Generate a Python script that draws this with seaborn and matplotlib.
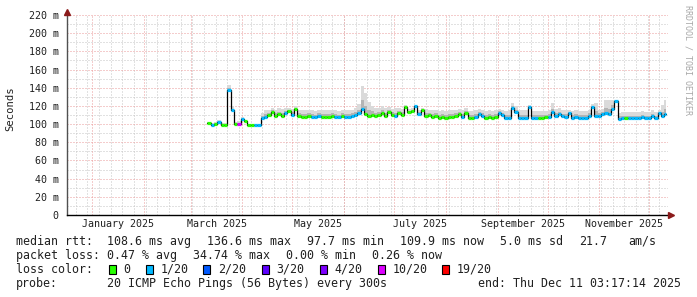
import numpy as np
import pandas as pd
import matplotlib
matplotlib.use("Agg")
import matplotlib.pyplot as plt
import matplotlib.dates as mdates
from matplotlib.patches import Rectangle
import seaborn as sns

# ---------------- data ----------------
first_sample = "2025-03-11"
sample_step_days = 2
median_ms = [
    101, 99, 100, 102, 99, 99, 138, 115, 100, 100,
    106, 103, 98.5, 98.5, 98.5, 98.5, 107, 108, 110, 113,
    109, 111, 109, 112, 114, 110, 117, 109, 108, 108,
    109, 108, 108, 109, 108, 108, 108, 109, 108, 108,
    109, 108, 108, 109, 110, 112, 117, 111, 109, 110,
    109, 110, 112, 109, 113, 110, 109, 112, 110, 119,
    113, 114, 120, 111, 116, 109, 110, 108, 109, 107,
    108, 107, 108, 108, 109, 111, 108, 112, 107, 107,
    108, 111, 109, 107, 108, 107, 108, 112, 110, 107,
    107, 118, 113, 107, 107, 107, 119, 107, 107, 107,
    107, 108, 108, 113, 109, 111, 109, 108, 112, 107,
    108, 107, 107, 107, 109, 119, 109, 109, 111, 112,
    111, 117, 125, 106, 107, 107, 107, 107, 107, 107,
    108, 107, 107, 109, 107, 112, 109, 111,
]
smoke_max_ms = [
    102, 101, 102, 104, 101, 101, 143, 120, 102, 103,
    108, 105, 100, 100, 100, 100, 112, 116, 116, 118,
    116, 118, 117, 118, 118, 117, 120, 116, 115, 115,
    116, 115, 114, 116, 115, 115, 116, 116, 115, 114,
    116, 115, 115, 116, 118, 122, 142, 134, 124, 120,
    118, 118, 120, 118, 119, 117, 118, 118, 117, 121,
    117, 118, 121, 116, 118, 117, 116, 115, 116, 114,
    115, 114, 116, 115, 116, 117, 115, 118, 114, 114,
    115, 117, 116, 114, 115, 114, 115, 117, 116, 114,
    115, 123, 120, 115, 115, 115, 121, 114, 114, 114,
    114, 114, 115, 123, 117, 118, 115, 115, 116, 114,
    115, 114, 114, 114, 116, 122, 123, 116, 117, 126,
    126, 126, 127, 112, 113, 113, 113, 113, 113, 113,
    114, 113, 113, 115, 113, 116, 121, 126,
]
loss_of_20 = [
    0, 1, 0, 1, 0, 0, 1, 1, 0, 10,
    1, 0, 0, 0, 1, 1, 1, 1, 0, 0,
    0, 0, 0, 1, 0, 1, 0, 0, 0, 0,
    0, 1, 1, 1, 0, 0, 0, 0, 1, 1,
    0, 1, 1, 1, 1, 1, 1, 0, 0, 0,
    0, 0, 0, 0, 0, 0, 1, 0, 0, 0,
    0, 0, 1, 1, 0, 0, 0, 0, 0, 0,
    0, 0, 0, 0, 0, 0, 1, 0, 0, 0,
    1, 1, 1, 0, 0, 0, 0, 1, 1, 1,
    1, 1, 1, 1, 1, 1, 1, 1, 1, 0,
    0, 0, 1, 1, 1, 1, 1, 1, 1, 1,
    1, 1, 1, 1, 1, 1, 1, 1, 1, 1,
    1, 1, 1, 1, 1, 0, 1, 1, 1, 1,
    1, 1, 1, 1, 1, 1, 1, 1,
]
loss_levels = [0, 1, 2, 3, 4, 10, 19]
loss_labels = ["0", "1/20", "2/20", "3/20", "4/20", "10/20", "19/20"]
loss_colors = ["#26ff00", "#00b8ff", "#0059ff", "#5e00ff", "#7e00ff", "#dd00ff", "#ff0000"]
y_tick_values = [0, 20, 40, 60, 80, 100, 120, 140, 160, 180, 200, 220]
x_label_months = ["2025-01", "2025-03", "2025-05", "2025-07", "2025-09", "2025-11"]

legend_rtt = [("median rtt:", 16), ("108.6 ms avg", 107.3), ("136.6 ms max", 207.3),
              ("97.7 ms min", 306.7), ("109.9 ms now", 400), ("5.0 ms sd", 500),
              ("21.7", 579.3), ("am/s", 628.3)]
legend_loss = [("packet loss:", 16), ("0.47 % avg", 107.3), ("34.74 % max", 193.3),
               ("0.00 % min", 286), ("0.26 % now", 372.3)]
probe_text = "20 ICMP Echo Pings (56 Bytes) every 300s"
end_text = "end: Thu Dec 11 03:17:14 2025"

# ---------------- style ----------------
sns.set_style("white")
plt.rcParams["font.family"] = ["DejaVu Sans Mono"]
W, H = 697, 297
fig = plt.figure(figsize=(W / 100, H / 100), dpi=100, facecolor="white")
ax_l, ax_r, ax_t, ax_b = 67, 668, 15, 215
ax = fig.add_axes([ax_l / W, 1 - ax_b / H, (ax_r - ax_l) / W, (ax_b - ax_t) / H])
ax.set_facecolor("white")

x_start = pd.Timestamp("2024-12-16 20:00")
x_end = pd.Timestamp("2025-12-12 05:00")
ax.set_xlim(x_start, x_end)
ax.set_ylim(0, 220)

red = "#eb9a9a"
gray = "#c4c4c4"
dot = (0, (1, 2))
gkw = dict(lw=0.72, ls=dot)
# minor grid
for v in range(10, 221, 20):
    ax.axhline(v, color=gray, zorder=0, **gkw)
weeks = pd.date_range("2024-12-22", x_end, freq="7D")
for d in weeks:
    ax.axvline(d, color=gray, zorder=0, **gkw)
# major grid
for v in y_tick_values[1:]:
    ax.axhline(v, color=red, zorder=0.1, **gkw)
months = pd.date_range("2025-01-01", x_end, freq="MS")
for d in months:
    ax.axvline(d, color=red, zorder=0.1, **gkw)

# ---------------- data marks ----------------
n = len(median_ms)
dates = pd.date_range(first_sample, periods=n, freq=f"{sample_step_days}D")
end_date = pd.Timestamp("2025-12-11 03:00")
dates_ext = list(dates) + [end_date]
med = np.array(median_ms, dtype=float)
hi = np.array(smoke_max_ms, dtype=float)
mid = med + 0.4 * (hi - med)
med_ext = np.append(med, med[-1])
hi_ext = np.append(hi, hi[-1])
mid_ext = np.append(mid, mid[-1])

ax.fill_between(dates_ext, med_ext, hi_ext, step="post", color="#dadada", lw=0, zorder=1)
ax.fill_between(dates_ext, med_ext, mid_ext, step="post", color="#b4b4b4", lw=0, zorder=1.1)

df = pd.DataFrame({"date": dates_ext, "median": med_ext})
sns.lineplot(data=df, x="date", y="median", ax=ax, color="black", lw=0.9,
             drawstyle="steps-post", zorder=2)

cmap = dict(zip(loss_levels, loss_colors))
seg_cols = [cmap[l] for l in loss_of_20]
ax.hlines(med, mdates.date2num(dates_ext[:-1]), mdates.date2num(dates_ext[1:]),
          colors=seg_cols, lw=2.3, zorder=3)

# ---------------- axes ----------------
ax.set_yticks(y_tick_values)
ax.set_yticklabels(["0" if v == 0 else f"{v} m" for v in y_tick_values])
ax.set_xticks(months)
ax.set_xticklabels([""] * len(months))
mids = []
for m in x_label_months:
    s = pd.Timestamp(m + "-01")
    e = s + pd.offsets.MonthBegin(1)
    mids.append(s + (e - s) / 2)
ax.set_xticks(mids, minor=True)
ax.set_xticklabels([pd.Timestamp(m + "-01").strftime("%B %Y") for m in x_label_months], minor=True)
ax.tick_params(axis="x", which="major", length=3, width=0.7, color=red, direction="out")
ax.tick_params(axis="x", which="minor", length=0, pad=3, labelsize=7.2, labelcolor="#202020")
ax.tick_params(axis="y", which="major", length=3, width=0.7, color="#606060", pad=3,
               labelsize=7.2, labelcolor="#202020")
ax.set_xlabel("")
ax.set_ylabel("Seconds", fontsize=7.6, color="#202020")
ax.yaxis.set_label_coords(-0.0937, 0.53)
ax.yaxis.label.set_verticalalignment("center")

for s in ["top", "right"]:
    ax.spines[s].set_visible(False)
ax.spines["left"].set_color("#505050")
ax.spines["left"].set_linewidth(1.0)
ax.spines["bottom"].set_color("black")
ax.spines["bottom"].set_linewidth(1.0)
ax.plot([1 + 3 / 601], [0], marker=">", ms=4, color="#8b1a1a", transform=ax.transAxes, clip_on=False, zorder=5)
ax.plot([0], [1 + 3 / 200], marker="^", ms=4, color="#8b1a1a", transform=ax.transAxes, clip_on=False, zorder=5)

# ---------------- legend text ----------------
fs = 8.4
tc = "#202020"
def ftext(x, y, s, **kw):
    fig.text(x / W, 1 - y / H, s, fontsize=kw.pop("fontsize", fs), color=kw.pop("color", tc),
             va=kw.pop("va", "center"), ha=kw.pop("ha", "left"), **kw)

for s, x in legend_rtt:
    ftext(x, 241.5, s)
for s, x in legend_loss:
    ftext(x, 255.5, s)
ftext(16, 269.5, "loss color:")
box_x = [108.7, 146, 203.3, 261.7, 320, 377.7, 442]
for bx, lab, col in zip(box_x, loss_labels, loss_colors):
    fig.add_artist(Rectangle((bx / W, 1 - 274 / H), 7 / W, 9 / H, transform=fig.transFigure,
                             facecolor=col, edgecolor="black", lw=0.8))
    ftext(bx + 14.5, 269.5, lab)
ftext(16, 283.7, "probe:")
ftext(107.3, 283.7, probe_text)
ftext(478.3, 283.7, end_text)

ftext(688, 60, "RRDTOOL / TOBI OETIKER", fontsize=6, color="#a8a8a8", rotation=270, ha="center")

fig.savefig("out.png", dpi=100, facecolor="white")
